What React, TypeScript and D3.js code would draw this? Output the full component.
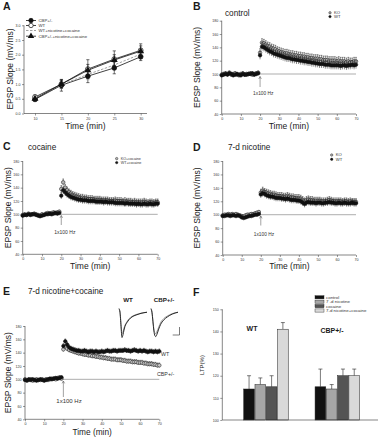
import React, { useRef, useEffect } from 'react';
import * as d3 from 'd3';

const FONT = '"Liberation Sans", Arial, Helvetica, sans-serif';

// A: EPSP slope during the first 30 min
const ioTimes = [10, 15, 20, 25, 30];
const ioLabels = ['CBP+/-', 'WT', 'WT+nicotine+cocaine', 'CBP+/-+nicotine+cocaine'];
const ioCbp = [0.48, 0.96, 1.27, 1.55, 1.93];
const ioCbpErr = [0.05, 0.2, 0.22, 0.2, 0.13];
const ioWt = [0.56, 1.0, 1.51, 1.85, 2.15];
const ioWtErr = [0.07, 0.15, 0.32, 0.28, 0.22];
const ioWtNicCoc = [0.52, 0.98, 1.33, 1.65, 2.02];
const ioWtNicCocErr = [0.06, 0.12, 0.18, 0.16, 0.15];
const ioCbpNicCoc = [0.5, 1.0, 1.47, 1.82, 2.12];
const ioCbpNicCocErr = [0.06, 0.12, 0.2, 0.18, 0.18];

// B-E: one sample per minute, 0..70 min, tetanus at 20 min
const minutes = d3.range(0, 71);
const tcYTicks = [40, 60, 80, 100, 120, 140, 160, 180];
const tcXTicks = [0, 10, 20, 30, 40, 50, 60, 70];

const ctrlKo = [
  99, 100, 101, 100, 102, 99, 100, 101, 99, 98,
  100, 101, 99, 100, 100, 101, 99, 100, 101, 102,
  132, 147, 146, 144, 142, 141, 139, 138, 137, 135,
  134, 133, 132, 131, 131, 130, 129, 129, 128, 128,
  127, 127, 126, 126, 125, 125, 124, 124, 123, 123,
  123, 122, 122, 121, 121, 121, 120, 120, 120, 120,
  119, 120, 119, 119, 119, 118, 119, 118, 118, 119,
  119,
];
const ctrlWt = [
  98, 99, 100, 99, 101, 100, 98, 99, 100, 99,
  98, 100, 99, 99, 100, 100, 101, 99, 100, 101,
  128, 141, 140, 138, 136, 134, 133, 131, 130, 129,
  128, 127, 126, 125, 124, 124, 123, 122, 122, 121,
  121, 120, 120, 119, 119, 118, 118, 117, 117, 116,
  116, 115, 115, 115, 114, 114, 114, 113, 113, 113,
  113, 113, 112, 113, 113, 112, 113, 113, 114, 113,
  114,
];
const ctrlSem = [2.5, 6];

const cocKo = [
  99, 100, 99, 101, 100, 100, 101, 100, 99, 98,
  100, 99, 101, 102, 101, 102, 103, 102, 103, 104,
  138, 148, 140, 136, 133, 131, 129, 128, 127, 126,
  125, 125, 124, 124, 123, 123, 123, 122, 122, 122,
  122, 121, 121, 121, 121, 120, 120, 120, 121, 120,
  120, 120, 119, 120, 119, 119, 119, 118, 119, 118,
  118, 118, 118, 119, 118, 117, 118, 118, 117, 118,
  118,
];
const cocWt = [
  98, 99, 99, 100, 99, 100, 100, 99, 98, 97,
  98, 99, 100, 100, 101, 100, 101, 102, 101, 102,
  128, 136, 133, 130, 128, 126, 125, 124, 123, 122,
  122, 121, 121, 121, 120, 120, 120, 120, 119, 119,
  119, 119, 118, 119, 118, 118, 118, 118, 117, 117,
  117, 117, 117, 116, 117, 116, 116, 116, 116, 115,
  116, 115, 115, 116, 115, 115, 116, 115, 115, 116,
  116,
];
const cocSem = [2, 5];

const nicKo = [
  99, 100, 100, 101, 100, 101, 100, 101, 100, 99,
  98, 97, 99, 100, 100, 101, 101, 102, 103, 104,
  133, 136, 134, 133, 132, 131, 130, 130, 129, 128,
  128, 128, 127, 127, 128, 127, 126, 126, 125, 125,
  125, 124, 122, 120, 122, 123, 122, 122, 121, 121,
  121, 121, 120, 120, 120, 121, 122, 121, 120, 120,
  120, 120, 120, 119, 120, 120, 119, 120, 119, 119,
  119,
];
const nicWt = [
  98, 98, 99, 99, 98, 99, 99, 98, 99, 98,
  96, 95, 96, 97, 98, 98, 99, 100, 100, 101,
  130, 132, 131, 129, 128, 127, 127, 126, 125, 125,
  125, 124, 124, 123, 124, 123, 122, 122, 122, 121,
  121, 120, 118, 116, 118, 119, 118, 118, 118, 117,
  118, 118, 117, 117, 118, 118, 119, 118, 118, 117,
  117, 118, 117, 117, 118, 117, 117, 117, 118, 117,
  117,
];
const nicSem = [2, 5];

const nicCocWt = [
  99, 98, 100, 99, 100, 99, 98, 99, 100, 99,
  98, 99, 100, 101, 100, 101, 102, 101, 102, 103,
  150, 157, 152, 148, 146, 145, 144, 143, 143, 142,
  142, 143, 142, 141, 142, 142, 141, 142, 141, 141,
  142, 141, 142, 143, 142, 142, 143, 143, 142, 143,
  143, 143, 144, 143, 143, 142, 143, 144, 143, 142,
  143, 142, 143, 142, 141, 142, 142, 141, 142, 141,
  142,
];
const nicCocCbp = [
  100, 99, 99, 100, 98, 99, 100, 99, 99, 100,
  99, 100, 99, 100, 101, 101, 100, 102, 103, 101,
  145, 149, 146, 144, 143, 142, 141, 140, 139, 139,
  138, 137, 137, 136, 136, 135, 135, 134, 134, 133,
  133, 132, 132, 131, 131, 130, 130, 130, 129, 129,
  129, 128, 128, 127, 127, 127, 126, 126, 126, 125,
  125, 125, 124, 124, 123, 123, 123, 122, 122, 121,
  121,
];
const nicCocSem = [2, 3.5];

// E inset: sample EPSP traces (before / after tetanus)
const traceTime = [0, 1, 2, 3, 4, 5, 6, 8, 10, 13, 17, 22, 28];
const wtTracePre = [0.3, 0, -1.2, -2.3, -2.1, -1.7, -1.4, -1.0, -0.7, -0.45, -0.25, -0.1, 0];
const wtTracePost = [0.4, 0, -1.5, -2.7, -2.4, -1.9, -1.5, -1.1, -0.8, -0.5, -0.3, -0.12, 0];
const cbpTracePre = [0.3, 0, -0.9, -1.8, -2.2, -2.3, -2.1, -1.6, -1.1, -0.7, -0.4, -0.15, 0];
const cbpTracePost = [0.4, 0, -1.0, -2.0, -2.5, -2.6, -2.4, -1.8, -1.3, -0.85, -0.5, -0.2, 0];

// F: LTP summary
const ltpGroups = ['WT', 'CBP+/-'];
const ltpConditions = ['control', '7 -d nicotine', 'cocaine', '7-d nicotine+cocaine'];
const ltpColors = ['#111111', '#a6a6a6', '#545454', '#d9d9d9'];
const ltpWt = [114, 116, 115, 141];
const ltpWtErr = [6, 3, 5, 3];
const ltpCbp = [115, 114, 120, 120];
const ltpCbpErr = [8, 2, 3, 3];
const ltpYTicks = [100, 110, 120, 130, 140, 150];

type Sel = d3.Selection<any, unknown, null, undefined>;

function text(g: Sel, x: number, y: number, s: string, size: number, o: any = {}) {
  return g.append('text')
    .attr('x', x).attr('y', y)
    .attr('font-family', FONT)
    .attr('font-size', size)
    .attr('font-weight', o.weight || 'normal')
    .attr('text-anchor', o.anchor || 'start')
    .attr('fill', o.fill || '#1a1a1a')
    .text(s);
}

function yTitle(g: Sel, x: number, y: number, s: string, size: number) {
  g.append('text')
    .attr('transform', `translate(${x},${y}) rotate(-90)`)
    .attr('text-anchor', 'middle')
    .attr('font-family', FONT)
    .attr('font-size', size)
    .attr('fill', '#1a1a1a')
    .text(s);
}

function drawAxes(g: Sel, x: any, y: any, o: any) {
  const bx = g.append('g').attr('transform', `translate(0,${o.bottom})`)
    .call(d3.axisBottom(x).tickValues(o.xTicks).tickFormat(o.xFmt)
      .tickSize(2).tickSizeOuter(0).tickPadding(1.5));
  const ly = g.append('g').attr('transform', `translate(${o.left},0)`)
    .call(d3.axisLeft(y).tickValues(o.yTicks).tickFormat(o.yFmt)
      .tickSize(2).tickSizeOuter(0).tickPadding(1.5));
  [bx, ly].forEach((a) => {
    a.select('.domain').remove();
    a.attr('font-size', 3.6).attr('font-family', FONT);
    a.selectAll('line').attr('stroke', '#333').attr('stroke-width', 0.5);
    a.selectAll('text').attr('fill', '#333');
  });
  g.append('line').attr('x1', o.left).attr('x2', o.right)
    .attr('y1', o.bottom).attr('y2', o.bottom)
    .attr('stroke', '#333').attr('stroke-width', 0.6);
  g.append('line').attr('x1', o.left).attr('x2', o.left)
    .attr('y1', o.top).attr('y2', o.bottom)
    .attr('stroke', '#333').attr('stroke-width', 0.6);
}

function marker(g: Sel, kind: string, cx: number, cy: number, r: number) {
  if (kind === 'dot' || kind === 'open') {
    g.append('circle').attr('cx', cx).attr('cy', cy).attr('r', r)
      .attr('fill', kind === 'dot' ? '#111' : '#fff')
      .attr('stroke', '#111').attr('stroke-width', 0.7);
  } else if (kind === 'tri') {
    g.append('path')
      .attr('d', d3.symbol(d3.symbolTriangle, r * r * 3.6)())
      .attr('transform', `translate(${cx},${cy})`)
      .attr('fill', '#111');
  }
}

function drawPanelA(svg: Sel) {
  const g = svg.append('g');
  const x = d3.scaleLinear().domain([10, 30]).range([35, 140.7]);
  const y = d3.scaleLinear().domain([0, 3]).range([113.5, 25.3]);

  drawAxes(g, x, y, {
    xTicks: ioTimes, yTicks: [0, 0.5, 1, 1.5, 2, 2.5, 3],
    xFmt: d3.format('d'), yFmt: d3.format('.1f'),
    left: 24, right: 147, top: 25.3, bottom: 113.5,
  });

  const series = [
    { v: ioCbp, e: ioCbpErr, color: '#111', dash: null, marker: 'dot' },
    { v: ioWt, e: ioWtErr, color: '#111', dash: null, marker: 'open' },
    { v: ioWtNicCoc, e: ioWtNicCocErr, color: '#888', dash: '2.5,1.5', marker: 'none' },
    { v: ioCbpNicCoc, e: ioCbpNicCocErr, color: '#111', dash: null, marker: 'tri' },
  ];
  const line = d3.line<number>().x((_, i) => x(ioTimes[i])).y((d) => y(d));

  series.forEach((s) => {
    const sg = g.append('g');
    s.v.forEach((v, i) => {
      const cx = x(ioTimes[i]);
      sg.append('line').attr('x1', cx).attr('x2', cx)
        .attr('y1', y(v - s.e[i])).attr('y2', y(v + s.e[i]))
        .attr('stroke', s.color).attr('stroke-width', 0.6);
      [v - s.e[i], v + s.e[i]].forEach((w) => {
        sg.append('line').attr('x1', cx - 1.6).attr('x2', cx + 1.6)
          .attr('y1', y(w)).attr('y2', y(w))
          .attr('stroke', s.color).attr('stroke-width', 0.6);
      });
    });
    sg.append('path').datum(s.v).attr('d', line)
      .attr('fill', 'none').attr('stroke', s.color).attr('stroke-width', 0.8)
      .attr('stroke-dasharray', s.dash);
  });
  series.forEach((s) => {
    s.v.forEach((v, i) => marker(g, s.marker, x(ioTimes[i]), y(v), 2.4));
  });

  // legend
  series.forEach((s, i) => {
    const ly = [20.5, 25.5, 30.5, 36.2][i];
    g.append('line').attr('x1', 26).attr('x2', 36).attr('y1', ly).attr('y2', ly)
      .attr('stroke', s.color).attr('stroke-width', 0.8)
      .attr('stroke-dasharray', s.dash);
    marker(g, s.marker, 31, ly, 2.2);
    text(g, 38.5, ly + 1.5, ioLabels[i], 4.3, { fill: '#333' });
  });

  text(g, 3, 10, 'A', 10.5, { weight: 'bold' });
  yTitle(g, 12.5, 69, 'EPSP Slope (mV/ms)', 8.5);
  text(g, 85.5, 129, 'Time (min)', 8.5, { anchor: 'middle' });
}

function drawTimeCourse(svg: Sel, p: any) {
  const g = svg.append('g');
  const x = d3.scaleLinear().domain([0, 70]).range([p.left, p.right]);
  const y = d3.scaleLinear().domain([40, 180]).range([p.bottom, p.top]);

  drawAxes(g, x, y, {
    xTicks: tcXTicks, yTicks: tcYTicks,
    xFmt: d3.format('d'), yFmt: d3.format('d'),
    left: p.left, right: p.right, top: p.top, bottom: p.bottom,
  });

  g.append('line').attr('x1', x(0)).attr('x2', x(70))
    .attr('y1', y(100)).attr('y2', y(100))
    .attr('stroke', '#777').attr('stroke-width', 0.6);

  p.series.forEach((s: any) => {
    const sg = g.append('g');
    const sem = (i: number) => (i < 20 ? s.sem[0] : s.sem[1]);
    sg.selectAll('line.err').data(s.values).join('line')
      .attr('x1', (_: any, i: number) => x(minutes[i]))
      .attr('x2', (_: any, i: number) => x(minutes[i]))
      .attr('y1', (d: number, i: number) => y(d - sem(i)))
      .attr('y2', (d: number, i: number) => y(d + sem(i)))
      .attr('stroke', '#222').attr('stroke-width', 0.5);
    sg.selectAll('line.cap').data(s.values).join('line')
      .attr('x1', (_: any, i: number) => x(minutes[i]) - 0.8)
      .attr('x2', (_: any, i: number) => x(minutes[i]) + 0.8)
      .attr('y1', (d: number, i: number) => y(d + sem(i)))
      .attr('y2', (d: number, i: number) => y(d + sem(i)))
      .attr('stroke', '#222').attr('stroke-width', 0.5);
    sg.selectAll('circle').data(s.values).join('circle')
      .attr('cx', (_: any, i: number) => x(minutes[i]))
      .attr('cy', (d: number) => y(d))
      .attr('r', 1.8)
      .attr('fill', s.fill)
      .attr('stroke', '#111').attr('stroke-width', 0.5);
  });

  // tetanus arrow and label
  const ax = x(20);
  g.append('path')
    .attr('d', `M${ax},${p.arrowTop}L${ax},${p.arrowBottom}M${ax - 1.3},${p.arrowTop + 2.4}L${ax},${p.arrowTop}L${ax + 1.3},${p.arrowTop + 2.4}`)
    .attr('fill', 'none').attr('stroke', '#555').attr('stroke-width', 0.55);
  text(g, ax - 7, p.hzY, '1x100 Hz', p.hzSize, { fill: '#333' });

  if (p.legend) {
    p.legend.forEach((l: any, i: number) => {
      const ly = p.legendY[i];
      g.append('circle').attr('cx', p.legendX).attr('cy', ly).attr('r', 1.2)
        .attr('fill', p.series[i].fill).attr('stroke', '#111').attr('stroke-width', 0.45);
      text(g, p.legendX + 4, ly + 1.3, l, p.legendSize || 4.2, { fill: '#333' });
    });
  }

  text(g, p.letterX, p.letterY, p.letter, 10.5, { weight: 'bold' });
  text(g, p.titleX, p.titleY, p.title, 8.2);
  yTitle(g, p.yTitleX, (p.top + p.bottom) / 2, 'EPSP Slope (mV/ms)', 8.5);
  text(g, (p.left + p.right) / 2, p.xTitleY, 'Time (min)', p.xTitleSize || 8.5, { anchor: 'middle' });
}

function drawInsets(svg: Sel) {
  const g = svg.append('g');
  const ty = d3.scaleLinear().domain([-2.7, 0.4]).range([337.5, 308.5]);
  const wtX = d3.scaleLinear().domain([0, 28]).range([119, 147]);
  const cbpX = d3.scaleLinear().domain([0, 28]).range([151, 178]);
  const traces = [
    { x: wtX, v: wtTracePre, c: '#8a8a8a' },
    { x: wtX, v: wtTracePost, c: '#1a1a1a' },
    { x: cbpX, v: cbpTracePre, c: '#8a8a8a' },
    { x: cbpX, v: cbpTracePost, c: '#1a1a1a' },
  ];
  traces.forEach((t) => {
    const line = d3.line<number>().x((_, i) => t.x(traceTime[i])).y((d) => ty(d))
      .curve(d3.curveMonotoneX);
    g.append('path').datum(t.v).attr('d', line)
      .attr('fill', 'none').attr('stroke', t.c).attr('stroke-width', 0.9);
  });
  // scale bar
  g.append('path').attr('d', 'M172.7,335L179.5,335L179.5,327')
    .attr('fill', 'none').attr('stroke', '#222').attr('stroke-width', 0.6);
  text(g, 128, 302, 'WT', 6.2, { weight: 'bold', anchor: 'middle' });
  text(g, 164, 302, 'CBP+/-', 6.2, { weight: 'bold', anchor: 'middle' });
}

function drawPanelF(svg: Sel) {
  const g = svg.append('g');
  const y = d3.scaleLinear().domain([100, 150]).range([420, 309.3]);
  const xg = d3.scaleBand().domain(ltpGroups).range([222.3, 381])
    .paddingInner(0.376).paddingOuter(0.3);
  const xc = d3.scaleBand().domain(ltpConditions).range([0, xg.bandwidth()])
    .paddingInner(0.05);

  const ly = g.append('g').attr('transform', 'translate(222.3,0)')
    .call(d3.axisLeft(y).tickValues(ltpYTicks).tickFormat(d3.format('d'))
      .tickSize(2).tickSizeOuter(0).tickPadding(1.5));
  ly.select('.domain').remove();
  ly.attr('font-size', 3.6).attr('font-family', FONT);
  ly.selectAll('line').attr('stroke', '#333').attr('stroke-width', 0.5);
  ly.selectAll('text').attr('fill', '#333');
  g.append('line').attr('x1', 222.3).attr('x2', 222.3).attr('y1', y(150)).attr('y2', y(100))
    .attr('stroke', '#333').attr('stroke-width', 0.6);

  const groupVals = [
    { name: ltpGroups[0], v: ltpWt, e: ltpWtErr },
    { name: ltpGroups[1], v: ltpCbp, e: ltpCbpErr },
  ];
  groupVals.forEach((gv) => {
    gv.v.forEach((v, i) => {
      const bx = (xg(gv.name) as number) + (xc(ltpConditions[i]) as number);
      const bw = xc.bandwidth();
      const cx = bx + bw / 2;
      g.append('line').attr('x1', cx).attr('x2', cx)
        .attr('y1', y(v)).attr('y2', y(v + gv.e[i]))
        .attr('stroke', '#222').attr('stroke-width', 0.6);
      g.append('line').attr('x1', cx - 2).attr('x2', cx + 2)
        .attr('y1', y(v + gv.e[i])).attr('y2', y(v + gv.e[i]))
        .attr('stroke', '#222').attr('stroke-width', 0.6);
      g.append('rect').attr('x', bx).attr('y', y(v))
        .attr('width', bw).attr('height', y(100) - y(v))
        .attr('fill', ltpColors[i]).attr('stroke', '#222').attr('stroke-width', 0.5);
    });
  });

  g.append('line').attr('x1', 222.3).attr('x2', 378).attr('y1', y(100)).attr('y2', y(100))
    .attr('stroke', '#333').attr('stroke-width', 0.6);

  // legend
  ltpConditions.forEach((c, i) => {
    const cy = 297.3 + i * 4.4;
    g.append('rect').attr('x', 315).attr('y', cy - 1.6).attr('width', 9).attr('height', 3.2)
      .attr('fill', ltpColors[i]).attr('stroke', '#222').attr('stroke-width', 0.4);
    text(g, 326, cy + 1.5, c, 4.4, { fill: '#333' });
  });

  text(g, 252, 331, 'WT', 7, { weight: 'bold', anchor: 'middle' });
  text(g, 332, 333, 'CBP+/-', 7, { weight: 'bold', anchor: 'middle' });
  text(g, 193, 296, 'F', 10.5, { weight: 'bold' });
  yTitle(g, 203.5, 365, 'LTP(%)', 6);
}

export default function App() {
  const svgRef = useRef<SVGSVGElement>(null);

  useEffect(() => {
    const svg = d3.select(svgRef.current) as Sel;
    svg.selectAll('*').remove();
    svg.append('rect').attr('width', 381).attr('height', 440).attr('fill', '#fff');

    drawPanelA(svg);

    drawTimeCourse(svg, {
      letter: 'B', letterX: 193, letterY: 10, title: 'control', titleX: 225, titleY: 15.5,
      left: 221.7, right: 356, top: 20.7, bottom: 114,
      series: [
        { values: ctrlKo, sem: ctrlSem, fill: '#b4b4b4' },
        { values: ctrlWt, sem: ctrlSem, fill: '#111' },
      ],
      legend: ['KO', 'WT'], legendX: 330, legendY: [12.8, 16.6],
      arrowTop: 76.5, arrowBottom: 87, hzY: 95, hzSize: 4.8,
      yTitleX: 199.5, xTitleY: 129,
    });

    drawTimeCourse(svg, {
      letter: 'C', letterX: 3, letterY: 150, title: 'cocaine', titleX: 28, titleY: 150,
      left: 22.7, right: 157.7, top: 161, bottom: 254.3,
      series: [
        { values: cocKo, sem: cocSem, fill: '#b4b4b4' },
        { values: cocWt, sem: cocSem, fill: '#111' },
      ],
      legend: ['KO+cocaine', 'WT+cocaine'], legendX: 116.7, legendY: [158.6, 162.6], legendSize: 3.7,
      arrowTop: 215.5, arrowBottom: 225, hzY: 233.5, hzSize: 5,
      yTitleX: 11, xTitleY: 269,
    });

    drawTimeCourse(svg, {
      letter: 'D', letterX: 193, letterY: 150.5, title: '7-d nicotine', titleX: 228, titleY: 150,
      left: 222.7, right: 356, top: 161, bottom: 255,
      series: [
        { values: nicKo, sem: nicSem, fill: '#b4b4b4' },
        { values: nicWt, sem: nicSem, fill: '#111' },
      ],
      legend: ['KO', 'WT'], legendX: 331.7, legendY: [155, 159.3],
      arrowTop: 216, arrowBottom: 225.5, hzY: 235.5, hzSize: 4.8,
      yTitleX: 200, xTitleY: 269,
    });

    drawTimeCourse(svg, {
      letter: 'E', letterX: 3, letterY: 295, title: '7-d nicotine+cocaine', titleX: 28, titleY: 294,
      left: 25, right: 159.3, top: 326, bottom: 419.3,
      series: [
        { values: nicCocCbp, sem: nicCocSem, fill: '#c8c8c8' },
        { values: nicCocWt, sem: nicCocSem, fill: '#111' },
      ],
      legend: null,
      arrowTop: 381, arrowBottom: 397, hzY: 403, hzSize: 6,
      yTitleX: 11, xTitleY: 434.5, xTitleSize: 8.3,
    });
    text(svg, 161, 356, 'WT', 5.3, { fill: '#333' });
    text(svg, 157, 376, 'CBP+/-', 5.3, { fill: '#333' });
    drawInsets(svg);

    drawPanelF(svg);
  }, []);

  return (
    <svg ref={svgRef} width={381} height={440}
      style={{ position: 'absolute', left: 0, top: 0 }} />
  );
}
